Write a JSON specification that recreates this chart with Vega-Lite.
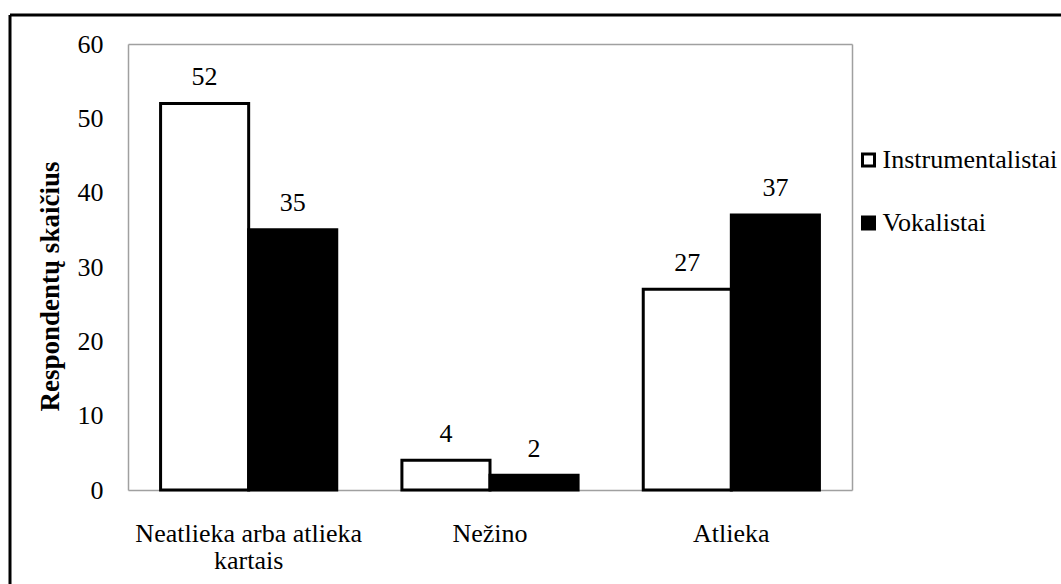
{
  "$schema": "https://vega.github.io/schema/vega-lite/v6.json",
  "width": 1051,
  "height": 569,
  "autosize": {"type": "none"},
  "padding": {"left": 10, "top": 15, "right": 0, "bottom": 0},
  "background": "white",
  "config": {
    "font": "Liberation Serif, Times New Roman, DejaVu Serif, serif",
    "view": {"stroke": "black", "strokeWidth": 3, "strokeDash": [1051, 1620, 569, 0]},
    "text": {"font": "Liberation Serif, Times New Roman, DejaVu Serif, serif"},
    "axis": {"grid": false, "ticks": false, "domainColor": "#a0a0a0", "domainWidth": 1.5, "labelColor": "black", "labelFontSize": 26, "labelFont": "Liberation Serif, Times New Roman, DejaVu Serif, serif", "titleFont": "Liberation Serif, Times New Roman, DejaVu Serif, serif", "labelLimit": 500},
    "legend": {"labelFont": "Liberation Serif, Times New Roman, DejaVu Serif, serif", "labelLimit": 500}
  },
  "data": {
    "values": [
      {"kategorija": "Neatlieka arba atlieka kartais", "grupe": "Instrumentalistai", "kiekis": 52},
      {"kategorija": "Neatlieka arba atlieka kartais", "grupe": "Vokalistai", "kiekis": 35},
      {"kategorija": "Nežino", "grupe": "Instrumentalistai", "kiekis": 4},
      {"kategorija": "Nežino", "grupe": "Vokalistai", "kiekis": 2},
      {"kategorija": "Atlieka", "grupe": "Instrumentalistai", "kiekis": 27},
      {"kategorija": "Atlieka", "grupe": "Vokalistai", "kiekis": 37}
    ]
  },
  "layer": [
    {
      "mark": {"type": "bar", "stroke": "black", "strokeWidth": 3},
      "encoding": {
        "x": {
          "field": "kategorija", "type": "nominal",
          "sort": ["Neatlieka arba atlieka kartais", "Nežino", "Atlieka"],
          "scale": {"range": [118, 842], "paddingInner": 0.27, "paddingOuter": 0.135},
          "axis": {
            "orient": "bottom", "offset": -94, "title": null, "labelAngle": 0,
            "labelPadding": 30, "labelLineHeight": 27,
            "labelExpr": "datum.label == 'Neatlieka arba atlieka kartais' ? ['Neatlieka arba atlieka', 'kartais'] : datum.label"
          }
        },
        "xOffset": {
          "field": "grupe", "type": "nominal",
          "sort": ["Instrumentalistai", "Vokalistai"],
          "scale": {"paddingInner": 0, "paddingOuter": 0}
        },
        "y": {
          "field": "kiekis", "type": "quantitative",
          "scale": {"domain": [0, 60], "range": [475, 29], "nice": false},
          "axis": {
            "orient": "left", "offset": -118, "values": [0, 10, 20, 30, 40, 50, 60],
            "labelPadding": 25,
            "title": "Respondentų skaičius", "titleFontSize": 27, "titleFontWeight": "bold",
            "titleColor": "black", "titleX": -64, "titleY": 271
          }
        },
        "fill": {
          "field": "grupe", "type": "nominal",
          "scale": {"domain": ["Instrumentalistai", "Vokalistai"], "range": ["white", "black"]},
          "legend": {
            "title": null, "orient": "none", "legendX": 845.5, "legendY": 132,
            "symbolType": "square", "symbolSize": 144,
            "symbolStrokeColor": "black", "symbolStrokeWidth": 3,
            "labelFontSize": 26, "labelColor": "black",
            "labelOffset": 1, "rowPadding": 37, "padding": 0
          }
        }
      }
    },
    {
      "mark": {"type": "text", "baseline": "alphabetic", "dy": -18.5, "fontSize": 26, "color": "black"},
      "encoding": {
        "x": {
          "field": "kategorija", "type": "nominal",
          "sort": ["Neatlieka arba atlieka kartais", "Nežino", "Atlieka"],
          "scale": {"range": [118, 842], "paddingInner": 0.27, "paddingOuter": 0.135},
          "axis": {"orient": "top", "offset": -29, "labels": false, "title": null}
        },
        "xOffset": {
          "field": "grupe", "type": "nominal",
          "sort": ["Instrumentalistai", "Vokalistai"],
          "scale": {"paddingInner": 0, "paddingOuter": 0}
        },
        "y": {
          "field": "kiekis", "type": "quantitative",
          "scale": {"domain": [0, 60], "range": [475, 29], "nice": false},
          "axis": {"orient": "right", "offset": -209, "labels": false, "title": null}
        },
        "text": {"field": "kiekis", "type": "quantitative"}
      }
    }
  ],
  "resolve": {"axis": {"x": "independent", "y": "independent"}}
}
